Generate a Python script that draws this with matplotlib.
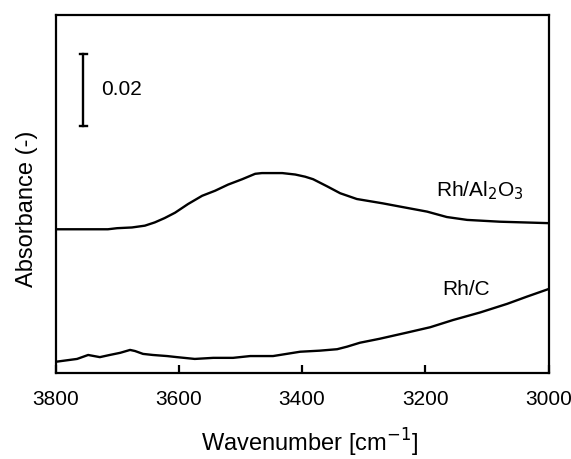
import numpy as np
import matplotlib.pyplot as plt

plt.rcParams['font.family'] = ['Liberation Sans', 'DejaVu Sans']

wn_al2o3 = [3800, 3715, 3700, 3676, 3655, 3639, 3623, 3606, 3585, 3562,
            3541, 3520, 3497, 3476, 3465, 3432, 3411, 3395, 3382, 3359,
            3338, 3311, 3269, 3241, 3197, 3165, 3132, 3079, 3000]
abs_al2o3 = [0.0399, 0.0399, 0.0402, 0.0404, 0.0409, 0.0418, 0.0430, 0.0445,
             0.0469, 0.0492, 0.0506, 0.0523, 0.0538, 0.0553, 0.0555, 0.0555,
             0.0551, 0.0545, 0.0538, 0.0518, 0.0499, 0.0483, 0.0471, 0.0462,
             0.0448, 0.0433, 0.0425, 0.0420, 0.0416]

wn_c = [3800, 3765, 3747, 3728, 3712, 3695, 3679, 3671, 3658, 3642, 3619,
        3603, 3574, 3544, 3512, 3484, 3447, 3436, 3403, 3371, 3343, 3327,
        3306, 3274, 3230, 3192, 3155, 3111, 3067, 3035, 3000]
abs_c = [0.0031, 0.0039, 0.0050, 0.0044, 0.0050, 0.0056, 0.0064, 0.0061,
         0.0053, 0.0050, 0.0047, 0.0044, 0.0039, 0.0042, 0.0042, 0.0047,
         0.0047, 0.0050, 0.0059, 0.0062, 0.0066, 0.0073, 0.0084, 0.0095,
         0.0112, 0.0127, 0.0147, 0.0168, 0.0192, 0.0212, 0.0233]

scale = 0.02  # absorbance scale bar

fig = plt.figure(figsize=(5.71, 4.59), dpi=100)
ax = fig.add_axes([0.0972, 0.1874, 0.8634, 0.78])

ax.plot(wn_al2o3, abs_al2o3, color='black', lw=1.7, solid_joinstyle='round')
ax.plot(wn_c, abs_c, color='black', lw=1.7, solid_joinstyle='round')

# scale bar
bar_x, bar_y0 = 3755, 0.0686
ax.plot([bar_x, bar_x], [bar_y0, bar_y0 + scale], color='black', lw=1.7)
ax.plot([bar_x - 6, bar_x + 6], [bar_y0, bar_y0], color='black', lw=1.7)
ax.plot([bar_x - 6, bar_x + 6], [bar_y0 + scale, bar_y0 + scale], color='black', lw=1.7)
ax.text(3726, bar_y0 + scale / 2, '0.02', fontsize=15, va='center', ha='left')

ax.text(3182, 0.0505, 'Rh/Al$_2$O$_3$', fontsize=15, va='center', ha='left')
ax.text(3172, 0.0231, 'Rh/C', fontsize=15, va='center', ha='left')

ax.set_xlim(3800, 3000)
ax.set_ylim(0, 0.0994)
ax.set_xticks([3800, 3600, 3400, 3200, 3000])
ax.set_yticks([])
ax.tick_params(axis='x', direction='in', length=6, width=1.6, labelsize=15, pad=12)
for s in ax.spines.values():
    s.set_linewidth(1.6)

ax.set_xlabel('Wavenumber [cm$^{-1}$]', fontsize=17)
ax.xaxis.set_label_coords(0.516, -0.15)
ax.set_ylabel('Absorbance (-)', fontsize=17)
ax.yaxis.set_label_coords(-0.036, 0.458)

fig.savefig('out.png', dpi=100)
